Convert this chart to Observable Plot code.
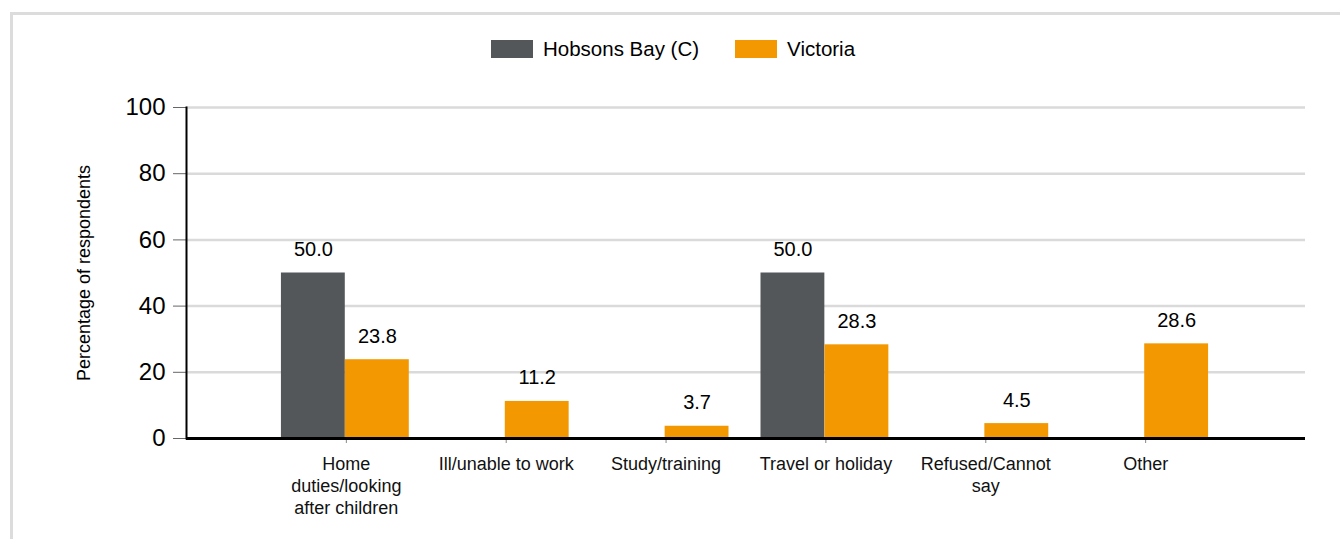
<!DOCTYPE html>
<html>
<head>
<meta charset="utf-8">
<script src="https://cdn.jsdelivr.net/npm/d3@7"></script>
<script src="https://cdn.jsdelivr.net/npm/@observablehq/plot@0.6"></script>
<style>
  html, body { margin: 0; padding: 0; background: #fff; width: 1340px; height: 539px; overflow: hidden; }
  body { font-family: "Liberation Sans", Arial, sans-serif; position: relative; }
  #frame { position: absolute; left: 10px; top: 12px; width: 1400px; height: 700px; border: 3px solid #dcdcdc; box-sizing: border-box; }
  #chart { position: absolute; left: 0; top: 0; }
  #legend { position: absolute; left: 491px; top: 37px; display: flex; align-items: center; font-size: 20.5px; color: #000; }
  #legend .sw { width: 42px; height: 18px; display: inline-block; margin-right: 10px; }
  #legend .item { display: flex; align-items: center; margin-right: 36px; }
</style>
</head>
<body>
<div id="frame"></div>
<div id="chart"></div>
<div id="legend"></div>
<script>
// ---- data ----
const categories = ["Home duties/looking after children", "Ill/unable to work", "Study/training", "Travel or holiday", "Refused/Cannot say", "Other"];
const tickLabels = ["Home\nduties/looking\nafter children", "Ill/unable to work", "Study/training", "Travel or holiday", "Refused/Cannot\nsay", "Other"];
const seriesNames = ["Hobsons Bay (C)", "Victoria"];
const seriesColors = ["#54575a", "#f39800"];
const hobsonsBay = [50.0, null, null, 50.0, null, null];
const victoria = [23.8, 11.2, 3.7, 28.3, 4.5, 28.6];
const yTicks = [0, 20, 40, 60, 80, 100];
const yTitle = "Percentage of respondents";

// ---- build rows ----
const hbRows = categories.map((c, i) => ({category: c, value: hobsonsBay[i]})).filter(d => d.value != null);
const vicRows = categories.map((c, i) => ({category: c, value: victoria[i]})).filter(d => d.value != null);

// ---- legend ----
const legend = document.getElementById("legend");
seriesNames.forEach((s, i) => {
  const item = document.createElement("div");
  item.className = "item";
  const sw = document.createElement("span");
  sw.className = "sw";
  sw.style.background = seriesColors[i];
  const t = document.createElement("span");
  t.textContent = s;
  item.appendChild(sw); item.appendChild(t);
  legend.appendChild(item);
});

const chart = Plot.plot({
  width: 1340,
  height: 539,
  marginTop: 107,
  marginBottom: 101,
  marginLeft: 186,
  marginRight: 35,
  style: {fontFamily: "'Liberation Sans', Arial, sans-serif", color: "#000", background: "transparent", overflow: "visible"},
  x: {domain: categories, paddingInner: 0, paddingOuter: 0.5, round: false},
  y: {domain: [0, 100]},
  marks: [
    Plot.ruleY(yTicks.filter(d => d > 0), {stroke: "#dadada", strokeWidth: 2.5}),
    Plot.barY(hbRows, {x: "category", y: "value", fill: seriesColors[0], insetLeft: 15, insetRight: 81}),
    Plot.barY(vicRows, {x: "category", y: "value", fill: seriesColors[1], insetLeft: 79, insetRight: 17}),
    Plot.text(hbRows, {x: "category", y: "value", text: d => d.value.toFixed(1), dx: -33, dy: -17, lineAnchor: "bottom", fontSize: 20, fill: "#000"}),
    Plot.text(vicRows, {x: "category", y: "value", text: d => d.value.toFixed(1), dx: 31, dy: -17, lineAnchor: "bottom", fontSize: 20, fill: "#000"}),
    Plot.axisY({ticks: yTicks, tickSize: 13, tickPadding: 8, fontSize: 24, stroke: "#666", fill: "#000", label: null}),
    Plot.axisX({tickSize: 5, tickPadding: 11, fontSize: 18, lineHeight: 1.22, stroke: "#888", fill: "#111", label: null,
      tickFormat: d => tickLabels[categories.indexOf(d)]}),
    Plot.frame({anchor: "left", stroke: "#000", strokeWidth: 2}),
    Plot.ruleY([0], {stroke: "#000", strokeWidth: 3}),
    Plot.text([yTitle], {frameAnchor: "left", rotate: -90, dx: -102, textAnchor: "middle", fontSize: 18, fill: "#000"})
  ]
});
document.getElementById("chart").appendChild(chart);
</script>
</body>
</html>
